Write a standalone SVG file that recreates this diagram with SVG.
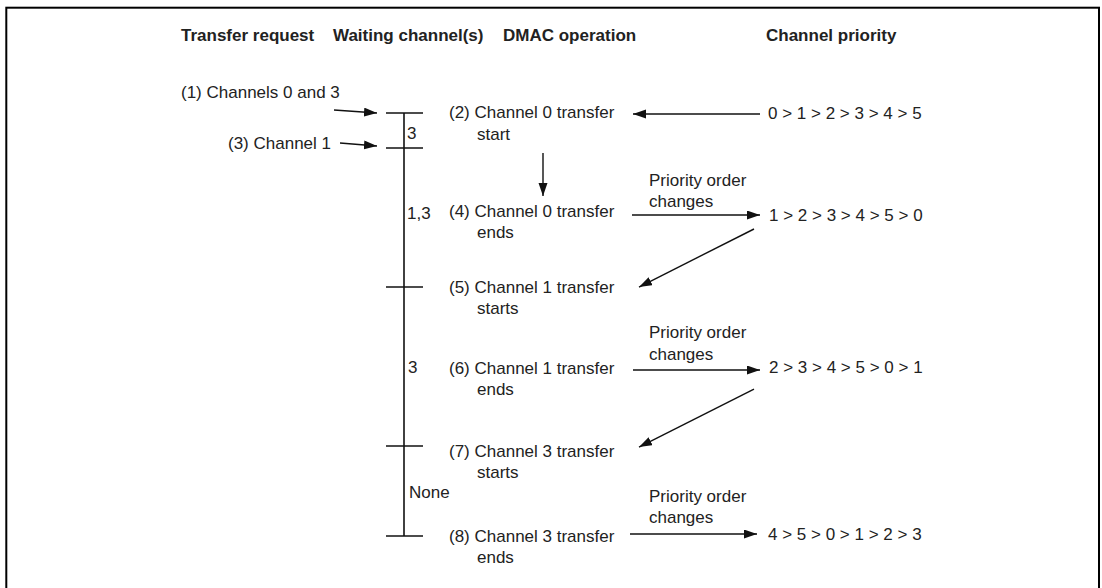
<svg xmlns="http://www.w3.org/2000/svg" width="1102" height="588" viewBox="0 0 1102 588">
<style>
text{font-family:"Liberation Sans",Arial,sans-serif;font-size:17px;fill:#222}
.h{font-weight:bold}
.ln{stroke:#111;stroke-width:1.4;fill:none}
.ax{stroke:#111;stroke-width:1.6;fill:none}
.ar{stroke:#111;stroke-width:1.4;fill:none;marker-end:url(#ah)}
</style>
<defs>
<marker id="ah" markerUnits="userSpaceOnUse" markerWidth="14" markerHeight="10" refX="13" refY="4.5" orient="auto">
<path d="M0,0 L13,4.5 L0,9 Z" fill="#111"/>
</marker>
</defs>
<rect x="6.3" y="7.7" width="1092.7" height="620" fill="#fff" stroke="#000" stroke-width="2"/>
<g id="headers">
<text class="h" x="181" y="41">Transfer request</text>
<text class="h" x="333" y="41">Waiting channel(s)</text>
<text class="h" x="503" y="41">DMAC operation</text>
<text class="h" x="766" y="41">Channel priority</text>
</g>
<g id="requests">
<text x="181" y="98">(1) Channels 0 and 3</text>
<text x="228" y="149">(3) Channel 1</text>
</g>
<g id="waiting">
<line class="ax" x1="404" y1="113" x2="404" y2="536"/>
<line class="ln" x1="386" y1="113" x2="423" y2="113"/>
<line class="ln" x1="386" y1="148" x2="423" y2="148"/>
<line class="ln" x1="386" y1="287" x2="423" y2="287"/>
<line class="ln" x1="386" y1="446" x2="423" y2="446"/>
<line class="ln" x1="386" y1="536" x2="423" y2="536"/>
<text x="407" y="139">3</text>
<text x="407" y="219">1,3</text>
<text x="408" y="373">3</text>
<text x="409" y="498">None</text>
</g>
<g id="op2"><text x="449" y="118">(2) Channel 0 transfer</text><text x="477" y="140">start</text></g>
<g id="op4"><text x="449" y="217">(4) Channel 0 transfer</text><text x="477" y="238">ends</text></g>
<g id="op5"><text x="449" y="293">(5) Channel 1 transfer</text><text x="477" y="314">starts</text></g>
<g id="op6"><text x="449" y="374">(6) Channel 1 transfer</text><text x="477" y="395">ends</text></g>
<g id="op7"><text x="449" y="457">(7) Channel 3 transfer</text><text x="477" y="478">starts</text></g>
<g id="op8"><text x="449" y="542">(8) Channel 3 transfer</text><text x="477" y="563">ends</text></g>
<g id="prio0"><text x="768" y="119">0 &gt; 1 &gt; 2 &gt; 3 &gt; 4 &gt; 5</text></g>
<g id="prio1"><text x="769" y="221">1 &gt; 2 &gt; 3 &gt; 4 &gt; 5 &gt; 0</text></g>
<g id="prio2"><text x="769" y="373">2 &gt; 3 &gt; 4 &gt; 5 &gt; 0 &gt; 1</text></g>
<g id="prio3"><text x="768" y="540">4 &gt; 5 &gt; 0 &gt; 1 &gt; 2 &gt; 3</text></g>
<g id="connectors">
<line class="ar" x1="334" y1="110" x2="377" y2="113"/>
<line class="ar" x1="340" y1="143" x2="377" y2="146"/>
<line class="ar" x1="760" y1="114" x2="633" y2="114"/>
<line class="ar" x1="543" y1="153" x2="543" y2="196"/>
<line class="ar" x1="632" y1="215" x2="760" y2="215"/>
<line class="ar" x1="754" y1="229" x2="639" y2="287"/>
<line class="ar" x1="633" y1="370" x2="760" y2="370"/>
<line class="ar" x1="754" y1="389" x2="639" y2="447"/>
<line class="ar" x1="630" y1="534" x2="757" y2="534"/>
<text x="649" y="186">Priority order</text>
<text x="649" y="207">changes</text>
<text x="649" y="338">Priority order</text>
<text x="649" y="360">changes</text>
<text x="649" y="502">Priority order</text>
<text x="649" y="523">changes</text>
</g>
</svg>
